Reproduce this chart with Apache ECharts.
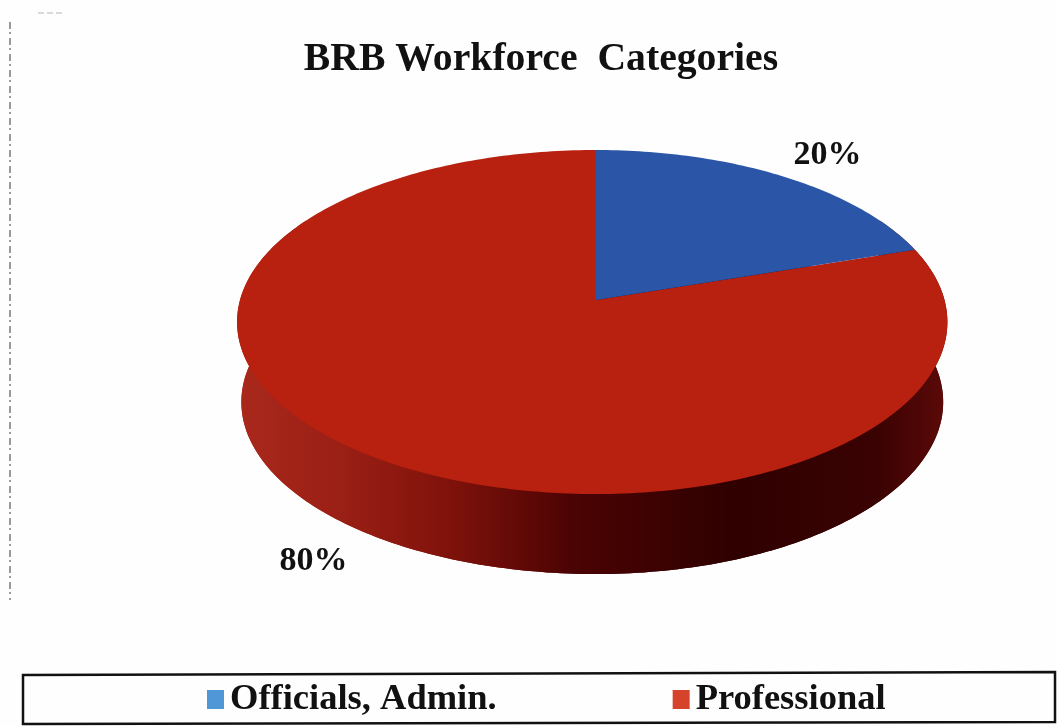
<!DOCTYPE html>
<html>
<head>
<meta charset="utf-8">
<style>
	html, body { margin: 0; padding: 0; background: #fefefe; }
	#main { width: 1057px; height: 726px; }
</style>
</head>
<body>
<div id="main"></div>
<script src="https://cdn.jsdelivr.net/npm/echarts@6/dist/echarts.min.js"></script>
<script>
	const categories = ['Officials, Admin.', 'Professional']
	const values = [20, 80]
	const sliceColors = ['#2b56a8', '#b8200f']
	const legendColors = ['#4f97d6', '#d5442a']

	const total = values[0] + values[1]
	const serif = '"Liberation Serif", serif'
	const apex = [596, 300]

	// the pie is a tilted disc, so the centre sits above the middle of the ellipse
	const project = (deg, depth) => {
		const a = deg * Math.PI / 180
		const u = Math.sin(a)
		const v = -Math.cos(a)
		const den = 1 - 0.128 * v
		const rx = u < 0 ? 356 : 348.5
		const shrink = depth ? 0.988 : 1
		return [apex[0] + rx * shrink * u / den, (130.8 * v + apex[1]) / den + depth]
	}

	const arc = (from, to, depth) => {
		const pts = []
		const step = from < to ? 1 : -1
		for (let d = from; d !== to; d += step) {
			pts.push(project(d, depth))
		}
		pts.push(project(to, depth))
		return pts
	}

	const wallFill = new echarts.graphic.LinearGradient(237, 0, 947, 0, [
		{ offset: 0, color: '#a9281c' },
		{ offset: 0.15, color: '#9a1f15' },
		{ offset: 0.3, color: '#7f120b' },
		{ offset: 0.47, color: '#4c0303' },
		{ offset: 0.7, color: '#2f0000' },
		{ offset: 0.9, color: '#3a0202' },
		{ offset: 1, color: '#5c0a08' }
	], true)

	const renderSlice = (idx) => (params, api) => {
		const value = api.value(0)
		// slices run clockwise from 12 o'clock
		let before = 0
		for (let i = 0; i < idx; i++) before += values[i]
		const start = before / total * 360
		const end = start + value / total * 360
		const children = []

		if (idx === 1) {
			children.push({
				type: 'polygon',
				shape: { points: arc(0, 360, 80) },
				style: { fill: wallFill }
			})
			children.push({
				type: 'polygon',
				shape: { points: arc(60, 300, 0).concat(arc(300, 60, 80)) },
				style: { fill: wallFill }
			})
		}

		children.push({
			type: 'polygon',
			shape: { points: [apex].concat(arc(start, end, 0)) },
			style: { fill: sliceColors[idx] }
		})

		const mid = (start + end) / 2 * Math.PI / 180
		const anchor = project((start + end) / 2, mid > Math.PI / 2 && mid < Math.PI * 1.5 ? 80 : 0)
		children.push({
			type: 'text',
			z2: 10,
			style: {
				x: anchor[0] + 83 * Math.sin(mid) - 3,
				y: anchor[1] - 30 * Math.cos(mid) + 4,
				text: Math.round(value / total * 100) + '%',
				fill: '#111',
				font: 'bold 34px ' + serif,
				align: 'center',
				verticalAlign: 'middle'
			}
		})
		return { type: 'group', children: children }
	}

	const option = {
		backgroundColor: '#fefefe',
		animation: false,
		title: {
			text: 'BRB Workforce  Categories',
			left: 536,
			top: 35,
			textAlign: 'center',
			textStyle: {
				fontFamily: serif,
				fontSize: 39.7,
				fontWeight: 'bold',
				color: '#111'
			}
		},
		legend: {
			left: 202,
			top: 676,
			itemWidth: 17,
			itemHeight: 19,
			itemGap: 176,
			icon: 'rect',
			selectedMode: false,
			data: categories.map((name, i) => ({ name: name, itemStyle: { color: legendColors[i] } })),
			textStyle: {
				fontFamily: serif,
				fontSize: 36.5,
				fontWeight: 'bold',
				color: '#111',
				padding: [0, 0, 0, 1]
			}
		},
		graphic: [
			{
				type: 'polygon',
				z: -1,
				shape: { points: [[23, 675], [1055, 672], [1055, 722], [23, 724]] },
				style: { fill: 'none', stroke: '#111', lineWidth: 2.5 }
			},
			{
				type: 'line',
				shape: { x1: 10, y1: 22, x2: 10, y2: 600 },
				style: { stroke: '#7a7a7a', lineWidth: 1.5, lineDash: [7, 3, 2, 4] }
			},
			{
				type: 'line',
				shape: { x1: 38, y1: 13, x2: 62, y2: 13 },
				style: { stroke: '#b5b5b5', lineWidth: 1, lineDash: [6, 3] }
			}
		],
		tooltip: { show: false },
		// drawn back to front: red with its wall first, then blue on top
		series: [1, 0].map((idx) => ({
			type: 'custom',
			name: categories[idx],
			coordinateSystem: 'none',
			silent: true,
			itemStyle: { color: sliceColors[idx] },
			renderItem: renderSlice(idx),
			data: [[values[idx]]]
		}))
	}

	const chart = echarts.init(document.getElementById('main'))
	chart.setOption(option)
</script>
</body>
</html>
